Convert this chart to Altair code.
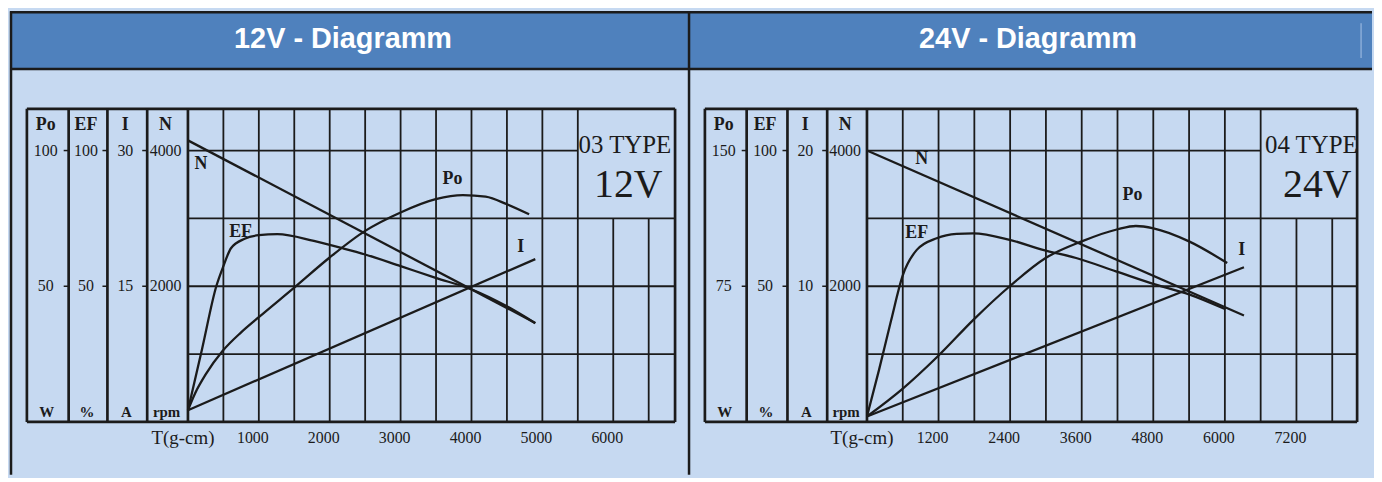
import altair as alt
import pandas as pd

# ---------------- values ----------------
# 12 V motor (03 TYPE), torque T in g-cm
T12_N = [0, 4900]
N12 = [4150, 1460]                      # rpm
T12_I = [0, 4900]
I12 = [1.3, 18.0]                       # A
T12_EF = [0, 200, 400, 500, 607, 800, 1000, 1262, 1776, 2150, 2500, 3000, 3495, 4005, 4500, 4900]
EF12 = [4.3, 27, 50, 57.4, 64.0, 67.5, 68.8, 69.2, 66.7, 64.2, 61.7, 57.4, 53.1, 48.8, 42.6, 36.4]   # %
T12_PO = [0, 100, 250, 491, 750, 995, 1495, 1995, 2500, 3000, 3495, 3879, 4200, 4500, 4813]
PO12 = [4.3, 10.5, 17.5, 26.2, 33.0, 38.5, 49.4, 60.5, 70.4, 77.2, 82.1, 83.6, 83.0, 80.2, 76.5]      # W

# 24 V motor (04 TYPE)
T24_N = [0, 6320]
N24 = [4000, 1570]
T24_I = [0, 6320]
I24 = [0.4, 11.4]
T24_EF = [0, 200, 400, 600, 835, 1169, 1503, 1781, 2393, 2950, 3506, 4174, 4842, 5399, 6011]
EF24 = [2, 19, 37, 54, 63.4, 67.7, 69.3, 69.5, 67.1, 63.4, 60.4, 55.5, 50.6, 47, 41.5]
T24_PO = [0, 596, 1197, 1792, 2393, 2995, 3601, 4202, 4508, 4803, 5399, 6039]
PO24 = [3, 18.3, 36.6, 56.7, 75, 90.6, 99.8, 106.5, 108.3, 107, 99.8, 87.8]

# labels
COLS = ["Po", "EF", "I", "N"]
UNITS = ["W", "%", "A", "rpm"]
TICKS12 = [["100", "50"], ["100", "50"], ["30", "15"], ["4000", "2000"]]
TICKS24 = [["150", "75"], ["100", "50"], ["20", "10"], ["4000", "2000"]]
XT12 = [1000, 2000, 3000, 4000, 5000, 6000]
XT24 = [1200, 2400, 3600, 4800, 6000, 7200]
XTITLE = "T(g-cm)"
TITLES = ["12V - Diagramm", "24V - Diagramm"]
TYPES = ["03 TYPE", "04 TYPE"]
VOLTS = ["12V", "24V"]

# ---------------- style / layout ----------------
LINE = "#1b1b1b"
BG = "#c6d9f1"
HEAD = "#4f81bd"
H = 466
YDOM = [(413 - H) / 273, 413 / 273]     # normalised level, 1 = top tick (100 %, 4000 rpm)
F_FRAME = 1.1538
F_HEAD = 1.3004
F_TOPB = 1.5092

P12 = dict(width=682, xdom=[-2510.5, 7054.7], frame=[-2272, 6872],
           cols=[-2272, -1683, -1136, -575, 0], step=500, box=5500, tick=70,
           title_x=2188, type_x=6164, volt_x=6213, edge_x=-2496, hl=None,
           lab=dict(N=(182, 0.95), EF=(743, 0.70), Po=(3731, 0.894), I=(4694, 0.645)))
P24 = dict(width=688, xdom=[-3000, 8466.7], frame=[-2717, 8217],
           cols=[-2717, -2017, -1333, -667, 0], step=600, box=6600, tick=83,
           title_x=2700, type_x=7450, volt_x=7550, edge_x=-2983, hl=8283,
           lab=dict(N=(917, 0.967), EF=(833, 0.696), Po=(4450, 0.835), I=(6283, 0.634)))


def make_panel(idx, P, curves, ticks, xt):
    sx = alt.Scale(domain=P["xdom"], nice=False, zero=False)
    sy = alt.Scale(domain=YDOM, nice=False, zero=False)
    ex = alt.X("x:Q", scale=sx, axis=None)
    ey = alt.Y("y:Q", scale=sy, axis=None)
    x0, x1 = P["xdom"]
    fl, fr = P["frame"]
    layers = []

    # header band
    hdr = pd.DataFrame({"x": [x0], "x2": [x1], "y": [F_HEAD], "y2": [YDOM[1]]})
    layers.append(alt.Chart(hdr).mark_rect(color=HEAD).encode(x=ex, x2="x2:Q", y=ey, y2="y2:Q"))

    seg = []

    def add(a, b, c, d, w, col=LINE):
        seg.append(dict(x=a, y=b, x2=c, y2=d, w=w, c=col))

    # borders
    add(x0, F_HEAD, x1, F_HEAD, 2.5)
    add(x0, F_TOPB, x1, F_TOPB, 2.5)
    add(P["edge_x"], YDOM[0], P["edge_x"], YDOM[1], 2.5)
    if P["hl"] is not None:
        add(P["hl"], 1.341, P["hl"], 1.469, 1, "#a8c3e6")
    # grid
    t = P["step"]
    while t < fr - 1:
        top = F_FRAME if t <= P["box"] else 0.75
        add(t, 0, t, top, 1.8)
        t += P["step"]
    for f in [0.25, 0.5, 0.75]:
        add(0, f, fr, f, 1.8)
    add(0, 1.0, P["box"], 1.0, 1.8)
    # frame and column dividers
    add(fl, 0, fr, 0, 2.7)
    add(fl, F_FRAME, fr, F_FRAME, 2.7)
    add(fr, 0, fr, F_FRAME, 2.7)
    for b in P["cols"]:
        add(b, 0, b, F_FRAME, 2.7)
    for b in P["cols"][1:4]:
        for f in [1.0, 0.5]:
            add(b - P["tick"], f, b, f, 1.5)
    sdf = pd.DataFrame(seg)
    layers.append(alt.Chart(sdf).mark_rule().encode(
        x=ex, y=ey, x2="x2:Q", y2="y2:Q",
        strokeWidth=alt.StrokeWidth("w:Q", scale=None),
        color=alt.Color("c:N", scale=None)))

    # curves
    rows = []
    for name, (ts, vs, full) in curves.items():
        for a, v in zip(ts, vs):
            rows.append(dict(x=a, y=v / full, s=name))
    cdf = pd.DataFrame(rows)
    layers.append(alt.Chart(cdf).mark_line(color=LINE, strokeWidth=2.3, interpolate="monotone")
                  .encode(x=ex, y=ey, detail="s:N"))

    def text(df, **kw):
        return alt.Chart(df).mark_text(color=LINE, **kw).encode(x=ex, y=ey, text="t:N")

    # curve labels
    ldf = pd.DataFrame([dict(x=v[0], y=v[1], t=k) for k, v in P["lab"].items()])
    layers.append(text(ldf, font="Liberation Serif", fontWeight="bold", fontSize=18))

    # column heads, tick values, units
    cents = [(P["cols"][i] + P["cols"][i + 1]) / 2 for i in range(4)]
    layers.append(text(pd.DataFrame(dict(x=cents, y=[1.095] * 4, t=COLS)),
                       font="Liberation Serif", fontWeight="bold", fontSize=18, dx=-2))
    vals = []
    for i in range(4):
        vals.append(dict(x=cents[i], y=1.0, t=ticks[i][0]))
        vals.append(dict(x=cents[i], y=0.5, t=ticks[i][1]))
    layers.append(text(pd.DataFrame(vals), font="Liberation Serif", fontSize=16, dx=-2))
    layers.append(text(pd.DataFrame(dict(x=cents, y=[0.036] * 4, t=UNITS)),
                       font="Liberation Serif", fontWeight="bold", fontSize=15, dx=-1))

    # x labels
    xl = pd.DataFrame(dict(x=xt, y=[-0.0586] * len(xt), t=[str(v) for v in xt]))
    layers.append(text(xl, font="Liberation Serif", fontSize=16, dx=-6))
    layers.append(text(pd.DataFrame(dict(x=[0], y=[-0.0586], t=[XTITLE])),
                       font="Liberation Serif", fontSize=19, dx=-5))

    # type box
    layers.append(text(pd.DataFrame(dict(x=[P["type_x"]], y=[1.022], t=[TYPES[idx]])),
                       font="Liberation Serif", fontSize=25))
    layers.append(text(pd.DataFrame(dict(x=[P["volt_x"]], y=[0.872], t=[VOLTS[idx]])),
                       font="Liberation Serif", fontSize=40))

    # header title
    layers.append(alt.Chart(pd.DataFrame(dict(x=[P["title_x"]], y=[1.41], t=[TITLES[idx]])))
                  .mark_text(color="white", font="Liberation Sans", fontWeight="bold", fontSize=29)
                  .encode(x=ex, y=ey, text="t:N"))

    return alt.layer(*layers).properties(width=P["width"], height=H)


c12 = {"Po": (T12_PO, PO12, float(TICKS12[0][0])), "EF": (T12_EF, EF12, float(TICKS12[1][0])),
       "I": (T12_I, I12, float(TICKS12[2][0])), "N": (T12_N, N12, float(TICKS12[3][0]))}
c24 = {"Po": (T24_PO, PO24, float(TICKS24[0][0])), "EF": (T24_EF, EF24, float(TICKS24[1][0])),
       "I": (T24_I, I24, float(TICKS24[2][0])), "N": (T24_N, N24, float(TICKS24[3][0]))}

p1 = make_panel(0, P12, c12, TICKS12, XT12)
p2 = make_panel(1, P24, c24, TICKS24, XT24)

chart = (alt.hconcat(p1, p2, spacing=0, bounds="flush")
         .properties(padding=0, background=BG)
         .configure_view(stroke=None))

chart.save("out.html", embed_options={"renderer": "svg", "actions": False})
